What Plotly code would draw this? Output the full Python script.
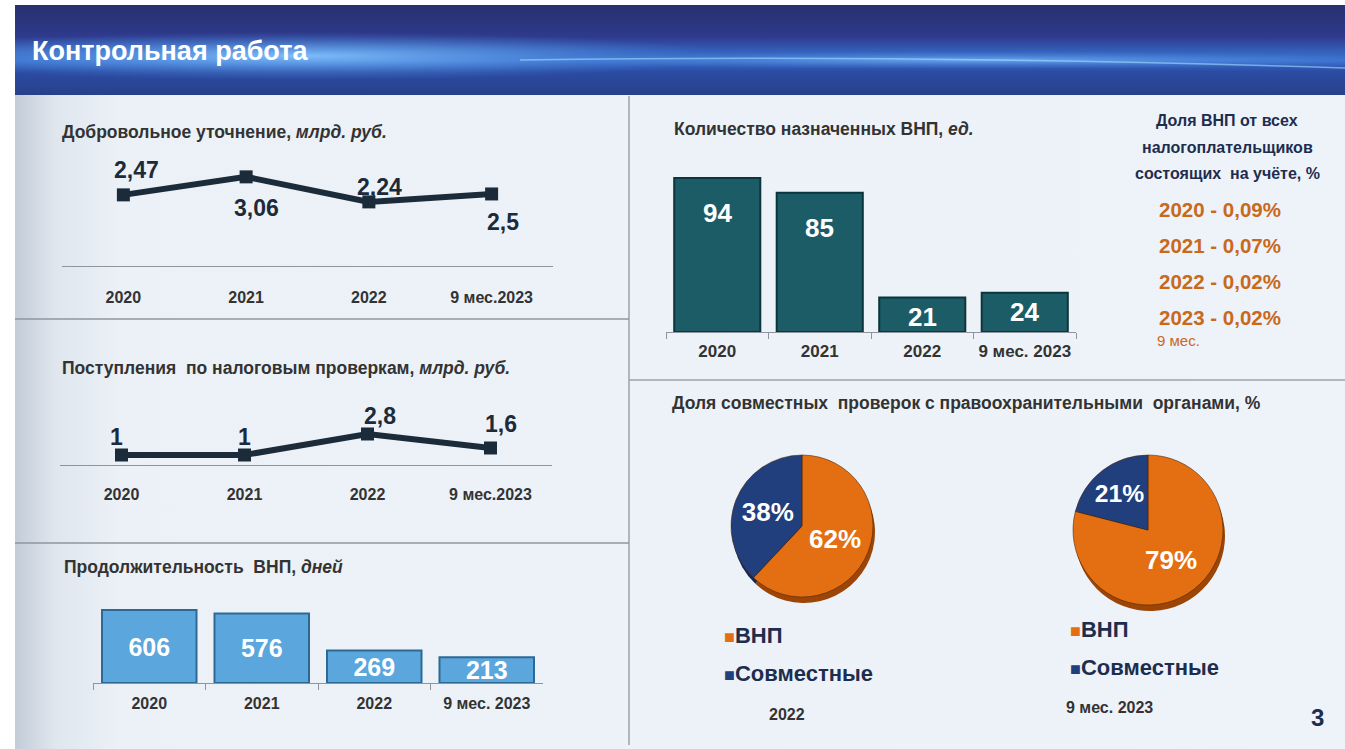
import base64
import plotly.graph_objects as go

W, H = 1345, 749

# ---------------- data ----------------
years_line = ["2020", "2021", "2022", "9 мес.2023"]
years_bar = ["2020", "2021", "2022", "9 мес. 2023"]

voluntary = [2.47, 3.06, 2.24, 2.5]        # Добровольное уточнение, млрд. руб.
receipts = [1.0, 1.0, 2.8, 1.6]            # Поступления по налоговым проверкам, млрд. руб.
duration_days = [606, 576, 269, 213]       # Продолжительность ВНП, дней
inspections = [94, 85, 21, 24]             # Количество назначенных ВНП, ед.

share_years = ["2020", "2021", "2022", "2023"]
share_pct = ["0,09%", "0,07%", "0,02%", "0,02%"]

pie_labels = ["ВНП", "Совместные"]
pie_2022 = [62, 38]
pie_2023 = [79, 21]

# ---------------- style ----------------
FONT = "Liberation Sans, Arial, Helvetica, sans-serif"
DARK = "#1c2b3a"
GREY_TXT = "#333333"
NAVY = "#1e2d4d"
ORANGE_TXT = "#c8691c"
PIE_COLORS = ["#e46f12", "#203f7c"]
PIE_SHADOW = ["#9c4506", "#13275a"]
AXIS_C = "#8f959c"

# label offsets (pixels) for the line charts
shift_A = [(13, 25), (10, -31), (11, 15), (11, -28)]
shift_B = [(-5, 18), (0, 18), (12, 18), (10, 24)]


def fx(px):
    return px / W


def fy(py):
    return 1 - py / H


def ru(v):
    return f"{v:g}".replace(".", ",")


# ---------------- background (svg) ----------------
svg = f'''<svg xmlns="http://www.w3.org/2000/svg" width="{W}" height="{H}" viewBox="0 0 {W} {H}">
<defs>
 <linearGradient id="hd" x1="0" y1="0" x2="0" y2="1">
  <stop offset="0" stop-color="#28306f"/>
  <stop offset="0.35" stop-color="#2e3a8c"/>
  <stop offset="0.52" stop-color="#3462bb"/>
  <stop offset="0.62" stop-color="#386dcb"/>
  <stop offset="0.74" stop-color="#2b4ca4"/>
  <stop offset="1" stop-color="#27408a"/>
 </linearGradient>
 <radialGradient id="glow" cx="0.5" cy="0.5" r="0.5">
  <stop offset="0" stop-color="#86c6ff" stop-opacity="0.9"/>
  <stop offset="1" stop-color="#4a8fe6" stop-opacity="0"/>
 </radialGradient>
 <linearGradient id="bd" x1="0" y1="0" x2="1" y2="0">
  <stop offset="0" stop-color="#c3ccd8"/>
  <stop offset="0.03" stop-color="#dfe6ee"/>
  <stop offset="0.08" stop-color="#ecf1f7"/>
  <stop offset="1" stop-color="#eef3f9"/>
 </linearGradient>
 <clipPath id="hc"><rect x="15" y="5" width="{W-15}" height="90"/></clipPath>
</defs>
<rect width="{W}" height="{H}" fill="#ffffff"/>
<rect x="15" y="95" width="{W-15}" height="{H-95}" fill="url(#bd)"/>
<g clip-path="url(#hc)">
 <rect x="15" y="5" width="{W-15}" height="90" fill="url(#hd)"/>
 <ellipse cx="300" cy="56" rx="430" ry="24" fill="url(#glow)"/>
 <ellipse cx="980" cy="60" rx="480" ry="9" fill="url(#glow)" opacity="0.7"/>
 <path d="M520 60 Q 900 54 1345 68" stroke="#a6dcff" stroke-width="1.5" fill="none" opacity="0.6"/>
</g>
</svg>'''
bg_uri = "data:image/svg+xml;base64," + base64.b64encode(svg.encode("utf-8")).decode("ascii")

fig = go.Figure()

# ---------------- line chart A ----------------
fig.add_trace(go.Scatter(
    x=years_line, y=voluntary, mode="lines+markers",
    line=dict(color=DARK, width=6),
    marker=dict(symbol="square", size=13, color=DARK),
    xaxis="x", yaxis="y", hoverinfo="skip", showlegend=False))

# ---------------- line chart B ----------------
fig.add_trace(go.Scatter(
    x=years_line, y=receipts, mode="lines+markers",
    line=dict(color=DARK, width=6),
    marker=dict(symbol="square", size=13, color=DARK),
    xaxis="x2", yaxis="y2", hoverinfo="skip", showlegend=False))

# ---------------- bar chart C ----------------
fig.add_trace(go.Bar(
    x=years_bar, y=duration_days,
    marker=dict(color="#5aa6dd", line=dict(color="#2c6a95", width=2)),
    text=[str(v) for v in duration_days], textposition="inside",
    insidetextanchor="middle", constraintext="none",
    textfont=dict(family=FONT, size=25, color="white", weight="bold"),
    xaxis="x3", yaxis="y3", hoverinfo="skip", showlegend=False))

# ---------------- bar chart D ----------------
fig.add_trace(go.Bar(
    x=years_bar, y=inspections,
    marker=dict(color="#1b5c66", line=dict(color="#0c363d", width=2)),
    xaxis="x4", yaxis="y4", hoverinfo="skip", showlegend=False))

# ---------------- pies ----------------
def add_pie(values, cx, cy, r):
    # soft 3D depth
    fig.add_trace(go.Pie(
        labels=pie_labels, values=values, sort=False, direction="clockwise", rotation=0,
        marker=dict(colors=PIE_SHADOW, line=dict(width=0)),
        textinfo="none", hoverinfo="skip", showlegend=False,
        domain=dict(x=[fx(cx - r + 2), fx(cx + r + 2)], y=[fy(cy + r + 6), fy(cy - r + 6)])))
    fig.add_trace(go.Pie(
        labels=pie_labels, values=values, sort=False, direction="clockwise", rotation=0,
        marker=dict(colors=PIE_COLORS, line=dict(color="rgba(70,35,10,0.55)", width=1)),
        text=[f"{v}%" for v in values], textinfo="text", textposition="inside",
        insidetextorientation="horizontal",
        textfont=dict(family=FONT, size=26, color="white", weight="bold"),
        hoverinfo="skip", showlegend=False,
        domain=dict(x=[fx(cx - r), fx(cx + r)], y=[fy(cy + r), fy(cy - r)])))


add_pie(pie_2022, 802, 526, 71)
add_pie(pie_2023, 1148, 530, 75)

# ---------------- annotations ----------------
ann = []


def txt(x, y, text, size=17.5, color=GREY_TXT, xanchor="left", bold=True, yanchor="middle"):
    ann.append(dict(x=fx(x), y=fy(y), xref="paper", yref="paper", text=text, showarrow=False,
                    xanchor=xanchor, yanchor=yanchor,
                    font=dict(family=FONT, size=size, color=color, weight="bold" if bold else "normal")))


txt(30, 51, "Контрольная работа", size=27, color="white")

txt(60, 132, "Добровольное уточнение, <i>млрд. руб.</i>")
txt(60, 368, "Поступления  по налоговым проверкам, <i>млрд. руб.</i>")
txt(62, 567, "Продолжительность  ВНП, <i>дней</i>")
txt(672, 129, "Количество назначенных ВНП, <i>ед.</i>")
txt(670, 403, "Доля совместных  проверок с правоохранительными  органами, %")

# share block
txt(1227, 120, "Доля ВНП от всех", size=16, color=NAVY, xanchor="center")
txt(1227, 147, "налогоплательщиков", size=16, color=NAVY, xanchor="center")
txt(1227, 173, "состоящих  на учёте, %", size=16, color=NAVY, xanchor="center")
for i, (yr, pc) in enumerate(zip(share_years, share_pct)):
    txt(1157, 209 + i * 36.3, f"{yr} - {pc}", size=20.5, color=ORANGE_TXT)
txt(1155, 340, "9 мес.", size=15, color=ORANGE_TXT, bold=False)

# point labels on line charts (x = category index on the category axis)
for i, (v, (dx, dy)) in enumerate(zip(voluntary, shift_A)):
    ann.append(dict(x=i, y=v, xref="x", yref="y", text=ru(v), showarrow=False,
                    xshift=dx, yshift=dy, font=dict(family=FONT, size=23, color=DARK, weight="bold")))
for i, (v, (dx, dy)) in enumerate(zip(receipts, shift_B)):
    ann.append(dict(x=i, y=v, xref="x2", yref="y2", text=ru(v), showarrow=False,
                    xshift=dx, yshift=dy, font=dict(family=FONT, size=23, color=DARK, weight="bold")))

# labels inside the teal bars
for i, v in enumerate(inspections):
    ann.append(dict(x=i, y=v, xref="x4", yref="y4", text=str(v), showarrow=False,
                    yanchor="middle", yshift=-35 if v > 50 else -19,
                    font=dict(family=FONT, size=26, color="white", weight="bold")))

# pie legends and captions
def pie_legend(x, y0, gap):
    for i, (lab, col) in enumerate(zip(pie_labels, PIE_COLORS)):
        txt(x, y0 + i * gap, f"<span style='color:{col};font-size:18px'>■</span>{lab}", size=22, color=NAVY)


pie_legend(722, 635, 38)
pie_legend(1068, 629, 38)
txt(787, 714, "2022", size=16, xanchor="center")
txt(1064, 707, "9 мес. 2023", size=16)
txt(1317, 717, "3", size=24, color=NAVY, xanchor="center")

# ---------------- separator lines ----------------
shapes = [
    dict(type="line", xref="paper", yref="paper", x0=fx(629), x1=fx(629), y0=fy(96), y1=fy(745),
         line=dict(color="#9aa2ab", width=1.5)),
    dict(type="line", xref="paper", yref="paper", x0=fx(15), x1=fx(629), y0=fy(319), y1=fy(319),
         line=dict(color="#8e969e", width=1.5)),
    dict(type="line", xref="paper", yref="paper", x0=fx(15), x1=fx(629), y0=fy(543), y1=fy(543),
         line=dict(color="#8e969e", width=1.5)),
    dict(type="line", xref="paper", yref="paper", x0=fx(629), x1=fx(W), y0=fy(380), y1=fy(380),
         line=dict(color="#9aa2ab", width=1.5)),
]

tickfont = dict(family=FONT, size=16, color=GREY_TXT, weight="bold")
base_x = dict(type="category", showgrid=False, zeroline=False, showline=True, linecolor=AXIS_C,
              linewidth=1, tickfont=tickfont, fixedrange=True, range=[-0.5, 3.5])
base_y = dict(visible=False, showgrid=False, zeroline=False, fixedrange=True)

fig.update_layout(
    width=W, height=H, autosize=False,
    margin=dict(l=0, r=0, t=0, b=0),
    paper_bgcolor="white", plot_bgcolor="rgba(0,0,0,0)",
    font=dict(family=FONT),
    hovermode=False, showlegend=False, bargap=0.16,
    images=[dict(source=bg_uri, xref="paper", yref="paper", x=0, y=1, sizex=1, sizey=1,
                 xanchor="left", yanchor="top", sizing="stretch", layer="below")],
    xaxis=dict(base_x, domain=[fx(62), fx(553)], anchor="y", ticks="", ticklabelstandoff=17),
    yaxis=dict(base_y, domain=[fy(266), fy(150)], range=[0.14, 3.94]),
    xaxis2=dict(base_x, domain=[fx(60), fx(552)], anchor="y2", ticks="", ticklabelstandoff=15),
    yaxis2=dict(base_y, domain=[fy(465), fy(395)], range=[0.143, 6.14]),
    xaxis3=dict(base_x, domain=[fx(93), fx(543)], anchor="y3", ticks="outside", tickson="boundaries",
                ticklen=6, tickcolor=AXIS_C, ticklabelstandoff=6),
    yaxis3=dict(base_y, domain=[fy(683), fy(600)], range=[0, 689]),
    xaxis4=dict(base_x, domain=[fx(666), fx(1076)], anchor="y4", ticks="outside", tickson="boundaries",
                ticklen=6, tickcolor=AXIS_C, ticklabelstandoff=4,
                tickfont=dict(tickfont, size=17)),
    yaxis4=dict(base_y, domain=[fy(332), fy(160)], range=[0, 105]),
    annotations=ann, shapes=shapes,
)

fig.write_html("out.html", config={"displayModeBar": False},
               post_script="document.body.style.margin='0';document.body.style.overflow='hidden';")
